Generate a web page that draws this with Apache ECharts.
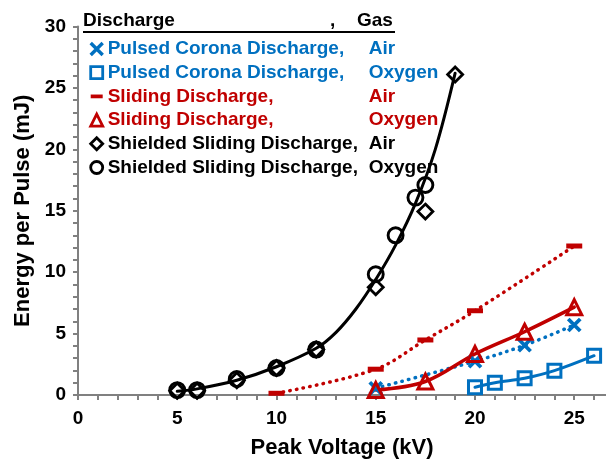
<!DOCTYPE html>
<html>
<head>
<meta charset="utf-8">
<script src="https://cdn.jsdelivr.net/npm/echarts@6/dist/echarts.min.js"></script>
<style>html,body{margin:0;padding:0;background:#fff}#c{width:606px;height:460px}</style>
</head>
<body>
<div id="c"></div>
<script>
// ---- data ----
const seriesNames = [
  'Pulsed Corona Discharge, Air',
  'Pulsed Corona Discharge, Oxygen',
  'Sliding Discharge, Air',
  'Sliding Discharge, Oxygen',
  'Shielded Sliding Discharge, Air',
  'Shielded Sliding Discharge, Oxygen'
];
const pcAirX = [15, 20, 22.5, 25];
const pcAirY = [0.55, 2.75, 4.05, 5.7];
const pcO2X = [20, 21, 22.5, 24, 26];
const pcO2Y = [0.63, 1.0, 1.36, 1.98, 3.2];
const sdAirX = [10, 15, 17.5, 20, 25];
const sdAirY = [0.14, 2.1, 4.48, 6.86, 12.13];
const sdO2X = [15, 17.5, 20, 22.5, 25];
const sdO2Y = [0.41, 1.1, 3.34, 5.15, 7.15];
const ssdAirX = [5, 6, 8, 10, 12, 15, 17.5, 19];
const ssdAirY = [0.35, 0.35, 1.2, 2.2, 3.7, 8.77, 14.93, 26.1];
const ssdO2X = [5, 6, 8, 10, 12, 15, 16, 17, 17.5];
const ssdO2Y = [0.4, 0.4, 1.3, 2.2, 3.7, 9.83, 13.0, 16.07, 17.1];
// black trend curve
const fitX = [5, 6, 8, 10, 12, 13, 14, 15, 16, 17, 18, 19];
const fitY = [0.3, 0.5, 1.2, 2.3, 3.8, 5.1, 7.0, 9.4, 12.2, 15.6, 20.0, 26.2];
const xTickLabels = [0, 5, 10, 15, 20, 25];
const yTickLabels = [0, 5, 10, 15, 20, 25, 30];

const BLUE = '#0070C0', RED = '#C00000', BLACK = '#000000';
const FONT = '"Liberation Sans", Arial, sans-serif';
const pair = (xs, ys) => xs.map((x, i) => [x, ys[i]]);

const X_PATH = 'path://M0,0L10,10M10,0L0,10';
const MINUS_PATH = 'path://M0,0L16,0L16,5L0,5Z';

function lineSeries(data, color, type, width) {
  return {
    type: 'line', data, smooth: 0.35, showSymbol: false, symbol: 'none',
    silent: true, z: 2,
    lineStyle: { color, width, type, cap: 'round' }
  };
}
function markerSeries(name, data, symbol, size, color, filled, bw) {
  return {
    type: 'scatter', name, data, symbol, symbolSize: size, z: 3,
    itemStyle: {
      color: filled ? color : 'rgba(0,0,0,0)',
      borderColor: color, borderWidth: bw, opacity: 1
    }
  };
}

const colors = [BLUE, BLUE, RED, RED, BLACK, BLACK];
const legendIcons = [X_PATH, 'rect', MINUS_PATH, 'triangle', 'diamond', 'circle'];
const legendFilled = [false, false, true, false, false, false];

const legendData = seriesNames.map((n, i) => ({
  name: n,
  icon: legendIcons[i],
  itemStyle: {
    color: legendFilled[i] ? colors[i] : 'rgba(0,0,0,0)',
    borderColor: colors[i],
    borderWidth: legendFilled[i] ? 0 : (i === 0 ? 3.4 : 2.8)
  },
  textStyle: { color: colors[i] }
}));

const richBase = { fontSize: 19, fontWeight: 'bold', fontFamily: FONT };

const option = {
  animation: false,
  backgroundColor: '#fff',
  grid: { left: 78, right: 0, top: 26.5, bottom: 65, containLabel: false, outerBoundsMode: 'none' },
  xAxis: {
    type: 'value', min: 0, max: 26.6, interval: 1,
    name: 'Peak Voltage (kV)', nameLocation: 'middle', nameGap: 42,
    nameTextStyle: { fontSize: 22, fontWeight: 'bold', fontFamily: FONT, color: '#000' },
    axisLine: { show: true, onZero: false, lineStyle: { color: '#808080', width: 2 } },
    axisTick: { show: true, inside: false, length: 5, lineStyle: { color: '#808080', width: 2 } },
    axisLabel: {
      margin: 14, fontSize: 19, fontWeight: 'bold', fontFamily: FONT, color: '#000',
      showMaxLabel: false,
      formatter: v => (xTickLabels.indexOf(v) >= 0 ? String(v) : '')
    },
    splitLine: { show: false }
  },
  yAxis: {
    type: 'value', min: 0, max: 30, interval: 1,
    name: 'Energy per Pulse (mJ)', nameLocation: 'middle', nameGap: 34,
    nameTextStyle: { fontSize: 22, fontWeight: 'bold', fontFamily: FONT, color: '#000' },
    axisLine: { show: true, onZero: false, lineStyle: { color: '#808080', width: 2 } },
    axisTick: { show: true, inside: false, length: 5, lineStyle: { color: '#808080', width: 2 } },
    axisLabel: {
      margin: 12, fontSize: 19, fontWeight: 'bold', fontFamily: FONT, color: '#000',
      formatter: v => (yTickLabels.indexOf(v) >= 0 ? String(v) : '')
    },
    splitLine: { show: false }
  },
  legend: {
    orient: 'vertical', left: 89, top: 39.5, itemGap: 4.7, itemWidth: 12, itemHeight: 12,
    selectedMode: false, padding: 0,
    data: legendData,
    formatter: name => {
      const k = name.lastIndexOf(', ');
      return '{a|' + name.slice(0, k + 1) + '}{b|' + name.slice(k + 2) + '}';
    },
    textStyle: {
      fontSize: 19, fontWeight: 'bold', fontFamily: FONT,
      rich: { a: Object.assign({ width: 261 }, richBase), b: Object.assign({}, richBase) }
    }
  },
  graphic: [
    { type: 'text', left: 83, top: 11, z: 10, style: { text: 'Discharge', font: 'bold 19px ' + FONT, fill: '#000' } },
    { type: 'text', left: 330, top: 11, z: 10, style: { text: ',', font: 'bold 19px ' + FONT, fill: '#000' } },
    { type: 'text', left: 357, top: 11, z: 10, style: { text: 'Gas', font: 'bold 19px ' + FONT, fill: '#000' } },
    { type: 'line', z: 10, shape: { x1: 83, y1: 32, x2: 395, y2: 32 }, style: { stroke: '#000', lineWidth: 2 } }
  ],
  series: [
    lineSeries(pair(pcAirX, pcAirY), BLUE, [0.5, 6.3], 3.5),
    lineSeries(pair(pcO2X, pcO2Y), BLUE, 'solid', 3),
    lineSeries(pair(sdAirX, sdAirY), RED, [0.5, 6.3], 3.5),
    lineSeries(pair(sdO2X, sdO2Y), RED, 'solid', 3.5),
    lineSeries(pair(fitX, fitY), BLACK, 'solid', 3),
    markerSeries(seriesNames[0], pair(pcAirX, pcAirY), X_PATH, 12, BLUE, false, 3.8),
    markerSeries(seriesNames[1], pair(pcO2X, pcO2Y), 'rect', 13, BLUE, false, 3),
    markerSeries(seriesNames[2], pair(sdAirX, sdAirY), MINUS_PATH, [16, 5], RED, true, 0),
    markerSeries(seriesNames[3], pair(sdO2X, sdO2Y), 'triangle', 15, RED, false, 3),
    markerSeries(seriesNames[4], pair(ssdAirX, ssdAirY), 'diamond', 15, BLACK, false, 2.8),
    markerSeries(seriesNames[5], pair(ssdO2X, ssdO2Y), 'circle', 15, BLACK, false, 2.9)
  ]
};

const chart = echarts.init(document.getElementById('c'), null, { renderer: 'canvas' });
chart.setOption(option);
</script>
</body>
</html>
